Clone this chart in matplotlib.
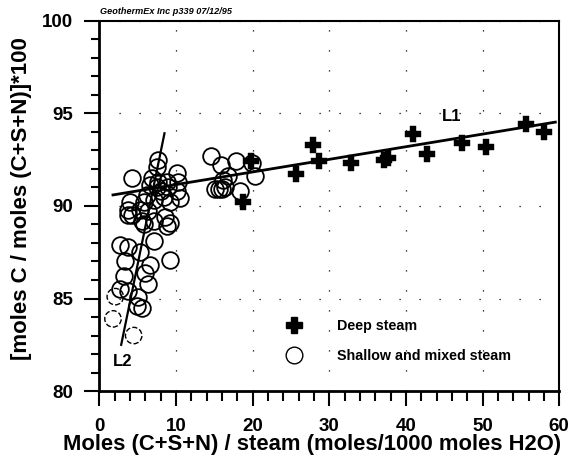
import matplotlib.pyplot as plt
from matplotlib.lines import Line2D

plt.rcParams['font.family'] = ['Liberation Sans', 'DejaVu Sans']
plt.rcParams['font.weight'] = 'bold'

# deep steam samples (crosses)
deep_x = [18.8, 19.8, 25.7, 27.9, 28.7, 32.9, 37.2, 37.7, 40.9, 42.8, 47.3, 50.5, 55.7, 58.0]
deep_y = [90.2, 92.4, 91.7, 93.3, 92.4, 92.3, 92.5, 92.6, 93.9, 92.8, 93.4, 93.2, 94.4, 94.0]

# shallow and mixed steam samples (open circles)
shallow_x = [4.3, 7.7, 7.5, 10.1, 10.3, 10.1, 10.6, 9.0, 8.4, 9.3, 8.6, 9.3,
             4.0, 3.8, 4.3, 5.3, 6.6, 6.9, 7.5, 6.2, 7.1, 5.8, 6.4, 5.6, 7.1,
             8.0, 8.8, 7.7, 5.8, 8.8, 7.1, 2.7, 3.8, 5.3, 9.3, 3.4, 6.6, 3.2,
             6.0, 6.4, 2.7, 3.8, 5.1, 4.9, 5.6, 14.6, 15.9, 17.9, 19.9, 20.3,
             15.1, 15.6, 16.0, 16.4, 16.2, 18.4, 16.8, 3.8]
shallow_y = [91.5, 92.5, 92.1, 91.8, 91.3, 90.8, 90.4, 91.0, 90.5, 90.2, 89.4, 89.1,
             90.2, 89.8, 89.5, 89.8, 91.1, 91.5, 91.0, 90.6, 90.3, 90.2, 89.7, 89.2, 89.2,
             90.8, 91.3, 91.3, 89.0, 88.9, 88.1, 87.9, 87.8, 87.5, 87.1, 87.0, 86.8, 86.2,
             86.4, 85.8, 85.5, 85.4, 85.1, 84.6, 84.5, 92.7, 92.2, 92.4, 92.3, 91.6,
             90.9, 90.9, 90.9, 91.0, 91.4, 90.8, 91.6, 89.5]
# the faint, broken circles at the bottom
faint_x = [1.8, 2.1, 4.5]
faint_y = [83.9, 85.1, 83.0]

# regression lines L1 and L2 (end points)
l1_x = [1.8, 59.5]
l1_y = [90.59, 94.52]
l2_x = [2.87, 8.52]
l2_y = [82.5, 93.92]

fig = plt.figure(figsize=(5.7, 4.58), dpi=100)
ax = fig.add_axes([0.174, 0.146, 0.807, 0.809])

ax.plot(l1_x, l1_y, color='black', lw=2, zorder=2)
ax.plot(l2_x, l2_y, color='black', lw=1.6, zorder=2)

ax.plot(shallow_x, shallow_y, 'o', ms=12, mfc='none', mec='black', mew=1.3, zorder=3)
ax.scatter(faint_x, faint_y, s=140, facecolors='none', edgecolors='black',
           linewidths=1.0, linestyles='--', zorder=3)
ax.plot(deep_x, deep_y, 'P', ms=12, color='black', mec='black', mew=0.3, zorder=4)

ax.text(46.0, 94.85, 'L1', fontsize=12, fontweight='bold', ha='center', va='center')
ax.text(3.1, 81.6, 'L2', fontsize=12, fontweight='bold', ha='center', va='center')

ax.set_xlim(0, 60)
ax.set_ylim(80, 100)
ax.set_xticks([0, 10, 20, 30, 40, 50, 60])
ax.set_yticks([80, 85, 90, 95, 100])
ax.set_xticks(range(0, 61, 2), minor=True)
ax.set_yticks(range(80, 101, 1), minor=True)
ax.tick_params(axis='both', which='major', labelsize=13.5, width=1.5, length=11, direction='out', pad=8)
ax.tick_params(axis='x', which='minor', width=1.5, length=7, direction='out')
ax.tick_params(axis='y', which='minor', width=1.5, length=6, direction='out')
for lab in ax.get_xticklabels() + ax.get_yticklabels():
    lab.set_fontweight('bold')

for side in ['left', 'bottom']:
    ax.spines[side].set_linewidth(2)
for side in ['top', 'right']:
    ax.spines[side].set_linewidth(1.5)

ax.grid(True, which='major', color='black', lw=0.9, linestyle=(0, (1, 15)))

ax.set_xlabel('Moles (C+S+N) / steam (moles/1000 moles H2O)', fontsize=15.8,
              fontweight='bold')
ax.set_ylabel('[moles C / moles (C+S+N)]*100', fontsize=16, fontweight='bold')
ax.xaxis.set_label_coords(0.463, -0.117)
ax.yaxis.set_label_coords(-0.145, 0.521)

fig.text(0.176, 0.965, 'GeothermEx Inc p339 07/12/95', fontsize=6.6, style='italic',
         fontweight='bold', va='bottom', ha='left')

handles = [
    Line2D([], [], marker='P', ls='none', ms=12, color='black'),
    Line2D([], [], marker='o', ls='none', ms=12, mfc='none', mec='black', mew=1.0),
]
ax.legend(handles, ['Deep steam', 'Shallow and mixed steam'], loc='upper left',
          bbox_to_anchor=(0.38, 0.21), frameon=False, fontsize=10.3,
          handletextpad=2.0, labelspacing=1.15, borderaxespad=0)

fig.savefig('out.png', dpi=100)
